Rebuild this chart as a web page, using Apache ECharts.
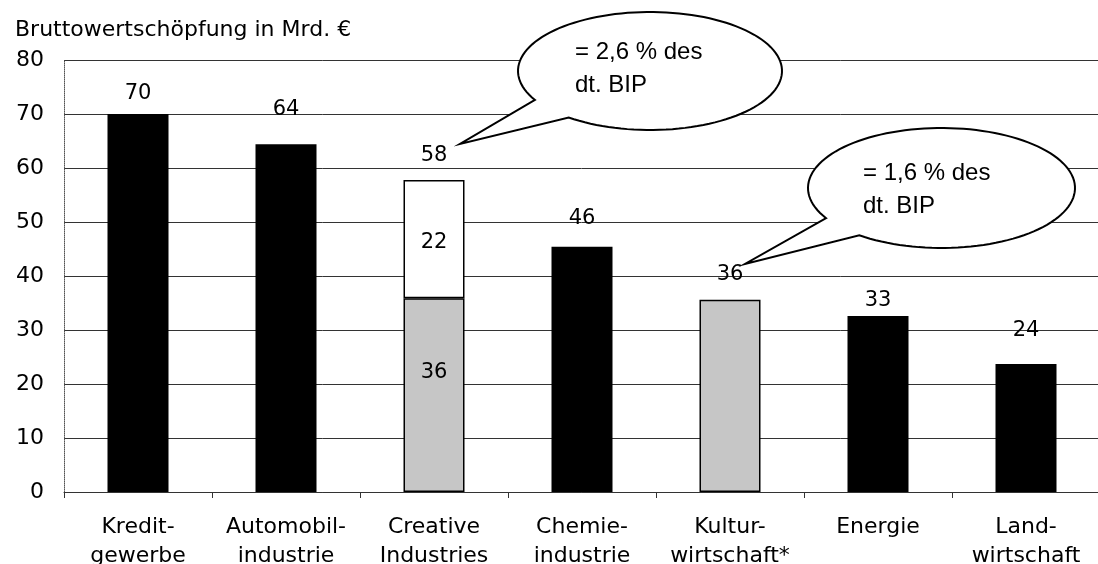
<!DOCTYPE html>
<html>
<head>
<meta charset="utf-8">
<script src="https://cdn.jsdelivr.net/npm/echarts@6/dist/echarts.min.js"></script>
<style>
html,body{margin:0;padding:0;background:#fff;}
#c{width:1098px;height:564px;}
</style>
</head>
<body>
<div id="c"></div>
<script>
const titleText = 'Bruttowertschöpfung in Mrd. €';
const categories = ['Kredit-\ngewerbe', 'Automobil-\nindustrie', 'Creative\nIndustries', 'Chemie-\nindustrie', 'Kultur-\nwirtschaft*', 'Energie', 'Land-\nwirtschaft'];
const mainValues = [70, 64.4, 35.9, 45.4, 35.6, 32.6, 23.7];
const mainLabels = ['70', '64', '36', '46', '36', '33', '24'];
const creativeTopValues = [null, null, 21.9, null, null, null, null];
const creativeTopLabels = ['', '', '22', '', '', '', ''];
const totalValues = [null, null, 57.8, null, null, null, null];
const totalLabels = ['', '', '58', '', '', '', ''];
const culturalFlags = [false, false, true, false, true, false, false];
const yTicks = [0, 10, 20, 30, 40, 50, 60, 70, 80];
const callout1Lines = ['= 2,6 % des', 'dt. BIP'];
const callout2Lines = ['= 1,6 % des', 'dt. BIP'];

const FONT = '"DejaVu Sans", sans-serif';
const GRAY = '#c6c6c6';
const labelGaps = [10, 24, 14, 18, 15, 5, 23];

const chart = echarts.init(document.getElementById('c'), null, {renderer: 'canvas'});

function calloutPoints(cx, cy, rx, ry, aStartDeg, aEndDeg, tip) {
  const pts = [];
  const steps = 120;
  for (let i = 0; i <= steps; i++) {
    const a = (aStartDeg + (aEndDeg - aStartDeg) * i / steps) * Math.PI / 180;
    pts.push([cx + rx * Math.cos(a), cy + ry * Math.sin(a)]);
  }
  pts.push(tip);
  return pts;
}

const baseData = mainValues.map((v, i) => {
  const item = {
    value: v,
    itemStyle: culturalFlags[i]
      ? {color: GRAY, borderColor: '#000', borderWidth: 1.5}
      : {color: '#000', borderWidth: 0},
    label: {formatter: mainLabels[i], position: 'top', distance: labelGaps[i]}
  };
  if (i === 2) {
    item.label = {formatter: mainLabels[i], position: 'inside', offset: [0, -23]};
  }
  return item;
});

const option = {
  animation: false,
  backgroundColor: '#fff',
  title: {
    text: titleText, left: 10, top: 14,
    textStyle: {fontFamily: FONT, fontSize: 22, fontWeight: 'normal', color: '#000'}
  },
  grid: {left: 64, top: 60, width: 1036, height: 432, containLabel: false, outerBoundsMode: 'none'},
  xAxis: {
    type: 'category',
    data: categories,
    boundaryGap: true,
    axisLine: {show: true, lineStyle: {color: '#333', width: 1}},
    axisTick: {show: true, length: 6, lineStyle: {color: '#333'}},
    axisLabel: {fontFamily: FONT, fontSize: 22, lineHeight: 29, color: '#000', margin: 21, interval: 0}
  },
  yAxis: {
    type: 'value', min: yTicks[0], max: yTicks[yTicks.length - 1], interval: yTicks[1] - yTicks[0],
    axisLine: {show: true, lineStyle: {color: '#555', type: 'dotted'}},
    axisTick: {show: false},
    axisLabel: {fontFamily: FONT, fontSize: 22, color: '#000', margin: 20},
    splitLine: {show: true, lineStyle: {color: '#333', width: 1}}
  },
  series: [
    {
      type: 'bar', stack: 'a', barWidth: 61,
      data: baseData,
      label: {show: true, fontFamily: FONT, fontSize: 21, color: '#000'}
    },
    {
      type: 'bar', stack: 'a', barWidth: 61,
      data: creativeTopValues,
      itemStyle: {color: '#fff', borderColor: '#000', borderWidth: 1.5},
      label: {show: true, position: 'inside', offset: [0, 4], fontFamily: FONT, fontSize: 21, color: '#000',
        formatter: p => creativeTopLabels[p.dataIndex]}
    },
    {
      type: 'bar', barWidth: 61, barGap: '-100%',
      data: totalValues,
      itemStyle: {color: 'rgba(255,255,255,0)', borderWidth: 0},
      label: {show: true, position: 'top', distance: 14, fontFamily: FONT, fontSize: 21, color: '#000',
        formatter: p => totalLabels[p.dataIndex]},
      z: 1
    }
  ],
  graphic: [
    {type: 'polygon', z: 100,
      shape: {points: calloutPoints(650, 71, 132, 59, 150.6, 128 + 360, [460, 144])},
      style: {fill: '#fff', stroke: '#000', lineWidth: 2}},
    {type: 'text', z: 101, x: 575, y: 52,
      style: {text: callout1Lines[0], font: '24px "Liberation Sans", Arial, sans-serif', fill: '#000', verticalAlign: 'middle'}},
    {type: 'text', z: 101, x: 575, y: 85,
      style: {text: callout1Lines[1], font: '24px "Liberation Sans", Arial, sans-serif', fill: '#000', verticalAlign: 'middle'}},
    {type: 'polygon', z: 100,
      shape: {points: calloutPoints(941.5, 188, 133.5, 60, 149.8, 128 + 360, [745, 264])},
      style: {fill: '#fff', stroke: '#000', lineWidth: 2}},
    {type: 'text', z: 101, x: 863, y: 173,
      style: {text: callout2Lines[0], font: '24px "Liberation Sans", Arial, sans-serif', fill: '#000', verticalAlign: 'middle'}},
    {type: 'text', z: 101, x: 863, y: 206,
      style: {text: callout2Lines[1], font: '24px "Liberation Sans", Arial, sans-serif', fill: '#000', verticalAlign: 'middle'}}
  ]
};
chart.setOption(option);
</script>
</body>
</html>
